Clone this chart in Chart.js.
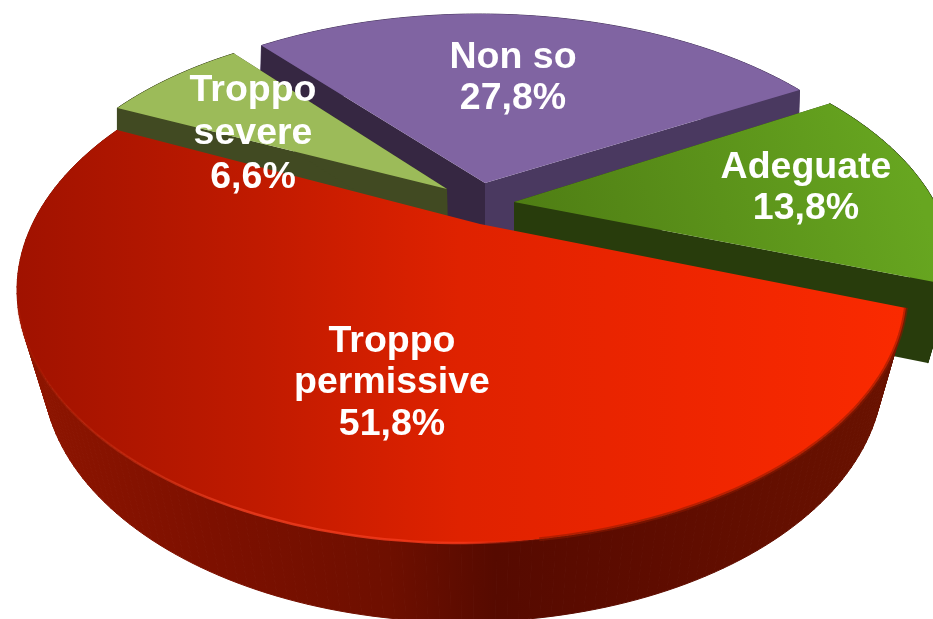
<!DOCTYPE html>
<html>
<head>
<meta charset="utf-8">
<style>html,body{margin:0;padding:0;background:#fff;overflow:hidden}canvas{display:block}</style>
<script src="https://cdn.jsdelivr.net/npm/chart.js@4"></script>
</head>
<body>
<canvas id="c" width="933" height="619"></canvas>
<script>
const categories = ['Troppo permissive', 'Troppo severe', 'Non so', 'Adeguate'];
const shareValues = [51.8, 6.6, 27.8, 13.8];
const labelLines = [['Troppo', 'permissive'], ['Troppo', 'severe'], ['Non so'], ['Adeguate']];

const deg = Math.PI / 180;
// Screen projection of each exploded slice of the tilted pie
const projection = [
  { apex: [480, 224], ell: [462, 290, 445, 253], bot: [463, 372, 420, 250], e0: 4.1, gain: 1.1535 },
  { apex: [447, 189], ell: [429, 255, 405, 230], shift: [0, 60], apexDrop: [1, 60], e0: 219.7, gain: 0.905 },
  { apex: [485, 183], ell: [479, 249, 435, 235], shift: [-2, 70], apexDrop: [0, 70], e0: 240, gain: 0.774 },
  { apex: [514, 202], ell: [480, 268, 472, 245], shift: [-23, 78], apexDrop: [0, 78], e0: 317.8, gain: 0.93 }
];
const drawOrder = [2, 1, 3, 0];
const sideColors = [
  { rim: null },
  { rim: '#414a22', a: '#414a22', b: '#414a22' },
  { rim: '#4a3960', a: '#362742', b: '#4a3960' },
  { rim: '#283c0c', a: '#283c0c', b: '#283c0c' }
];
const labelPlaces = [
  { x: 392, ys: [352, 393, 435] },
  { x: 253, ys: [101, 144, 188] },
  { x: 513, ys: [68, 109] },
  { x: 806, ys: [178, 219] }
];

function ellPoint(el, a) { return [el[0] + el[2] * Math.cos(a), el[1] + el[3] * Math.sin(a)]; }

function linear(ctx, x0, y0, x1, y1, stops) {
  const g = ctx.createLinearGradient(x0, y0, x1, y1);
  stops.forEach(s => g.addColorStop(s[0], s[1]));
  return g;
}

const tiltedPie = {
  id: 'tiltedPie',
  beforeDatasetDraw(chart) {
    const ctx = chart.ctx;
    const arcs = chart.getDatasetMeta(0).data;
    const faces = [
      linear(ctx, 17, 0, 903, 0, [[0, '#a01200'], [0.27, '#c01a00'], [0.5, '#df2200'], [0.75, '#ee2500'], [1, '#fa2a00']]),
      '#9cbb59',
      '#8064a2',
      linear(ctx, 530, 240, 900, 130, [[0, '#4f7e14'], [1, '#67a620']])
    ];
    const redWall = linear(ctx, 17, 0, 903, 0, [[0, '#8f1500'], [0.22, '#7d1000'], [0.42, '#6e0f00'], [0.54, '#560a00'], [0.72, '#5e0c00'], [1, '#6a1200']]);

    drawOrder.forEach(i => {
      const arc = arcs[i], p = projection[i], c = sideColors[i];
      const N = 140, top = [], bot = [];
      const botEl = p.bot || [p.ell[0] + p.shift[0], p.ell[1] + p.shift[1], p.ell[2], p.ell[3]];
      const span = arc.endAngle - arc.startAngle;
      for (let k = 0; k <= N; k++) {
        const e = p.e0 * deg + (span * k / N) * p.gain;
        top.push(ellPoint(p.ell, e));
        bot.push(ellPoint(botEl, e));
      }
      const rimFill = c.rim || redWall;
      ctx.fillStyle = rimFill; ctx.strokeStyle = rimFill; ctx.lineWidth = 1;
      for (let k = 0; k < N; k++) {
        ctx.beginPath();
        ctx.moveTo(top[k][0], top[k][1]); ctx.lineTo(top[k + 1][0], top[k + 1][1]);
        ctx.lineTo(bot[k + 1][0], bot[k + 1][1]); ctx.lineTo(bot[k][0], bot[k][1]);
        ctx.closePath(); ctx.fill(); ctx.stroke();
      }
      if (p.shift) {
        const A = p.apex, B = [A[0] + p.apexDrop[0], A[1] + p.apexDrop[1]];
        const face = (P, Q, col) => {
          ctx.fillStyle = col;
          ctx.beginPath();
          ctx.moveTo(A[0], A[1]); ctx.lineTo(P[0], P[1]); ctx.lineTo(Q[0], Q[1]); ctx.lineTo(B[0], B[1]);
          ctx.closePath(); ctx.fill();
        };
        face(top[0], bot[0], c.a);
        face(top[N], bot[N], c.b);
      }
      ctx.fillStyle = faces[i];
      ctx.beginPath();
      ctx.moveTo(p.apex[0], p.apex[1]);
      top.forEach(q => ctx.lineTo(q[0], q[1]));
      ctx.closePath();
      ctx.fill();

      if (i === 0) {
        const strokeArc = (a0, a1, style, w) => {
          ctx.beginPath();
          for (let k = 0; k <= 60; k++) {
            const q = ellPoint(p.ell, (a0 + (a1 - a0) * k / 60) * deg);
            k ? ctx.lineTo(q[0], q[1]) : ctx.moveTo(q[0], q[1]);
          }
          ctx.strokeStyle = style; ctx.lineWidth = w; ctx.stroke();
        };
        strokeArc(4, 80, 'rgba(140,25,0,0.55)', 4);
        strokeArc(70, 176, linear(ctx, 30, 0, 540, 0, [[0, 'rgba(190,40,10,0.2)'], [0.4, 'rgba(235,60,30,0.85)'], [0.85, 'rgba(245,55,25,0.85)'], [1, 'rgba(200,35,10,0)']]), 2.5);
      }
    });
    return false;
  },
  afterDatasetsDraw(chart) {
    const ctx = chart.ctx;
    ctx.save();
    ctx.fillStyle = '#ffffff';
    ctx.font = 'bold 37.5px "Liberation Sans", Arial, sans-serif';
    ctx.textAlign = 'center';
    ctx.textBaseline = 'alphabetic';
    shareValues.forEach((v, i) => {
      const lines = labelLines[i].concat(v.toFixed(1).replace('.', ',') + '%');
      lines.forEach((t, j) => ctx.fillText(t, labelPlaces[i].x, labelPlaces[i].ys[j]));
    });
    ctx.restore();
  }
};

new Chart(document.getElementById('c'), {
  type: 'pie',
  data: { labels: categories, datasets: [{ data: shareValues, backgroundColor: ['#e02200', '#9cbb59', '#8064a2', '#5f9d1f'] }] },
  options: {
    responsive: false,
    animation: false,
    rotation: 94,
    plugins: { legend: { display: false }, tooltip: { enabled: false } }
  },
  plugins: [tiltedPie]
});
</script>
</body>
</html>
